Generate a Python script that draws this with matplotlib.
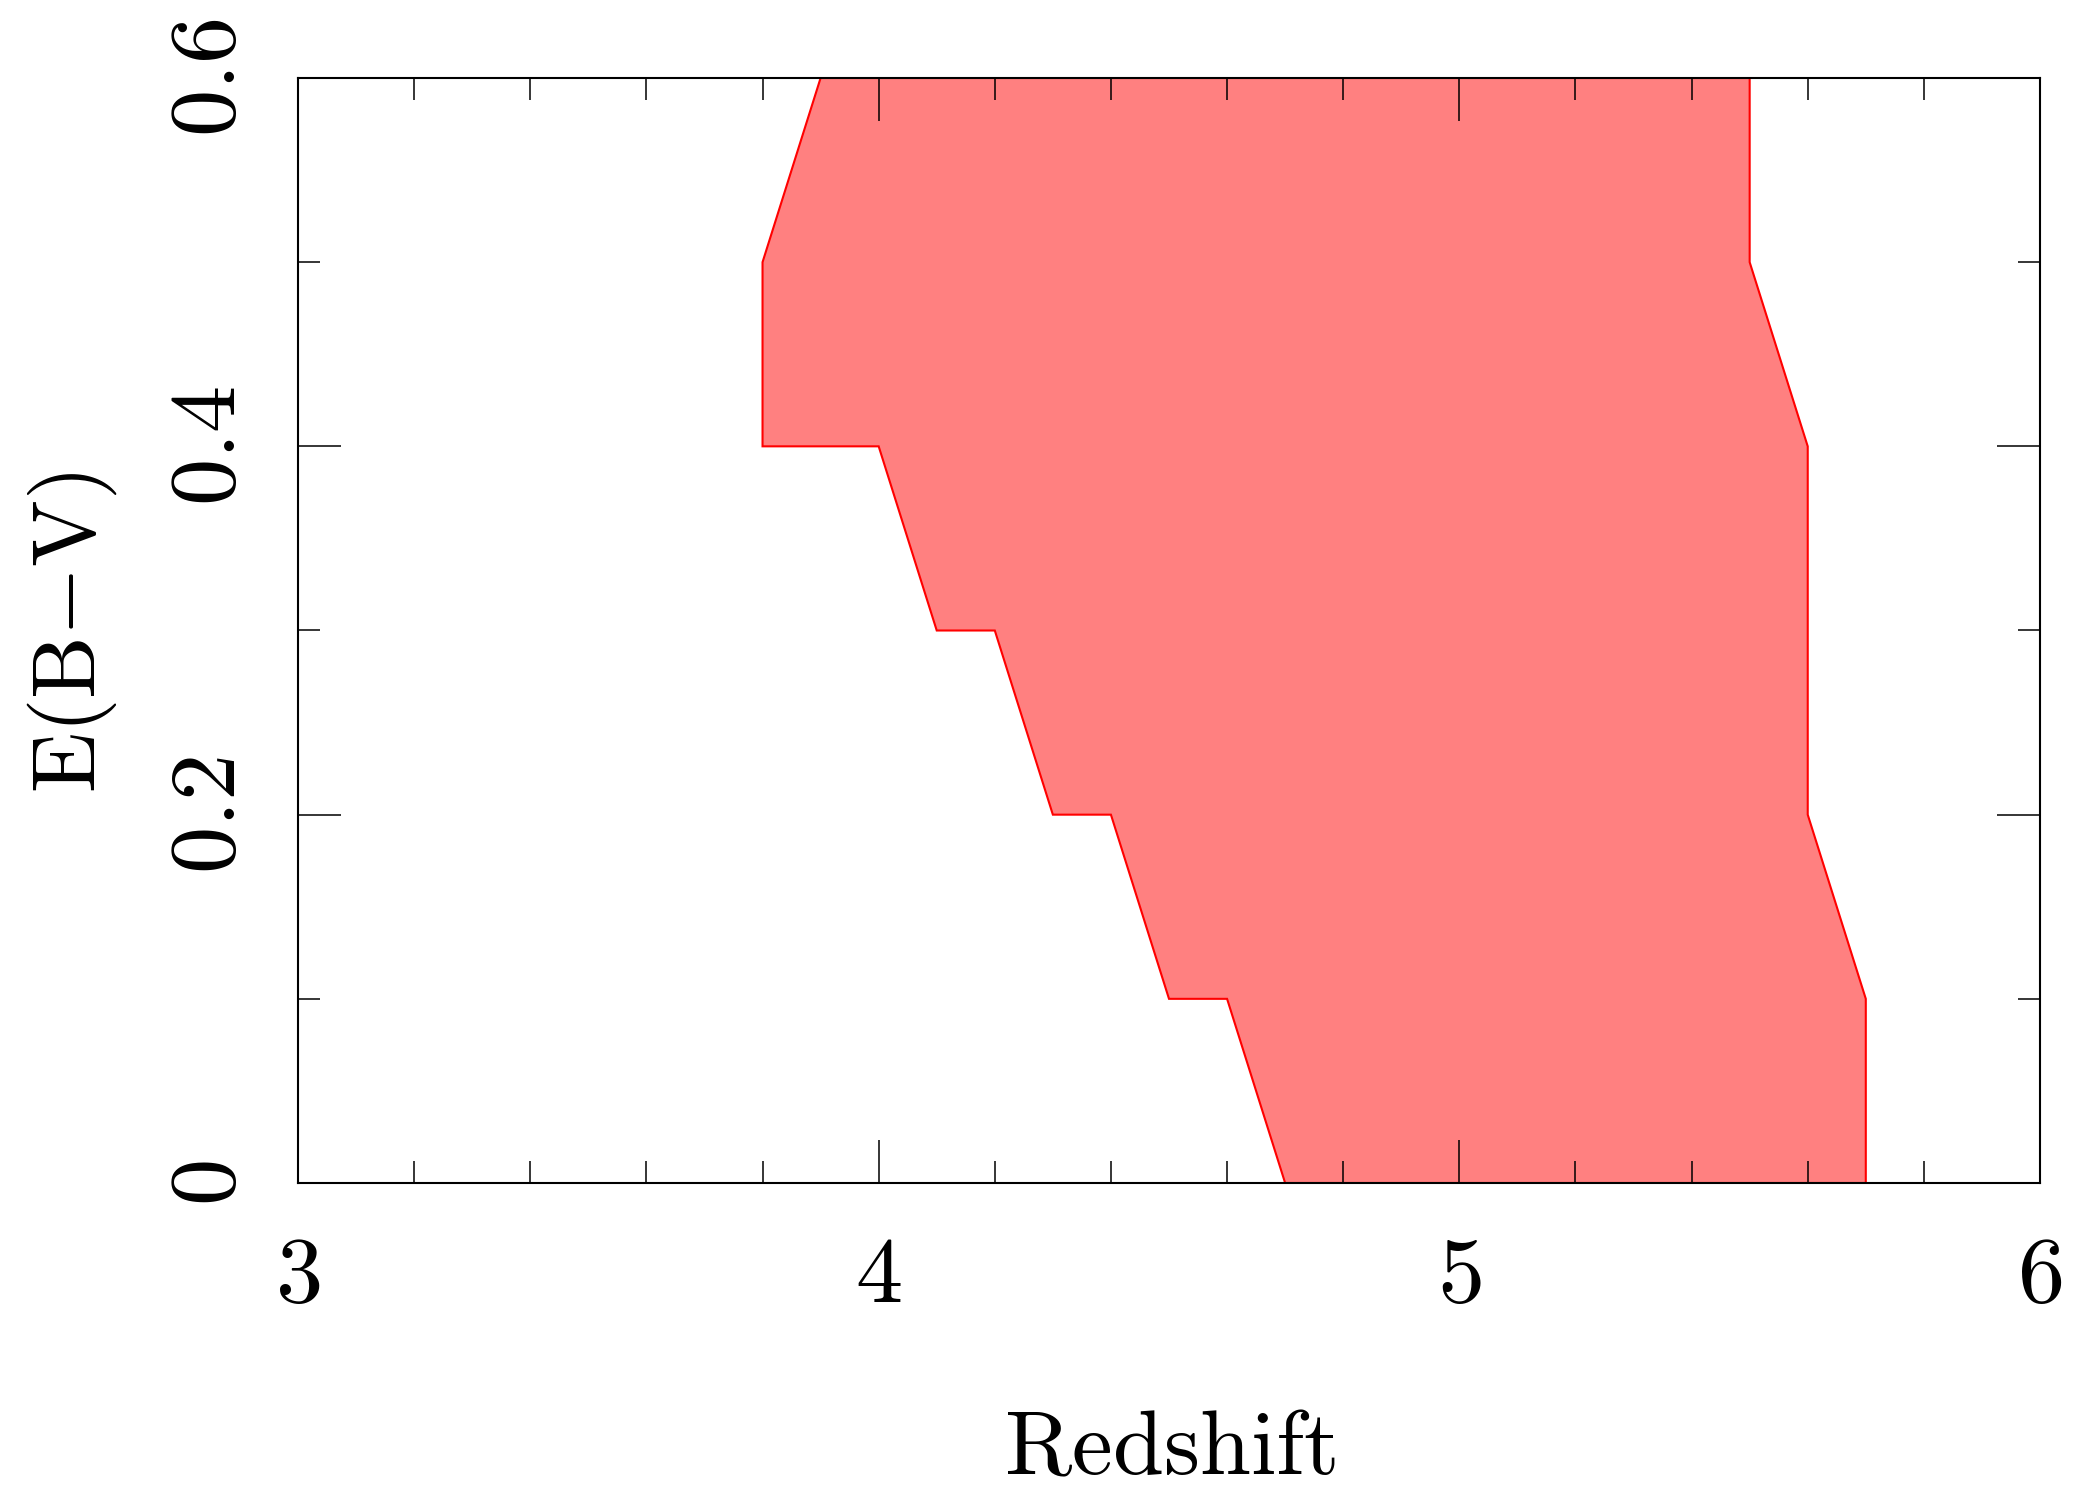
import numpy as np
import matplotlib
matplotlib.use("Agg")
from matplotlib import pyplot as plt
from matplotlib.ticker import MultipleLocator, FixedLocator, FixedFormatter

# Boundary of the allowed region: left edge (bottom to top), then right edge (top to bottom).
left_z = [4.7, 4.6, 4.5, 4.4, 4.3, 4.2, 4.1, 4.0, 3.8, 3.8, 3.9]
left_ebv = [0.0, 0.1, 0.1, 0.2, 0.2, 0.3, 0.3, 0.4, 0.4, 0.5, 0.6]
right_z = [5.5, 5.5, 5.6, 5.6, 5.7, 5.7]
right_ebv = [0.6, 0.5, 0.4, 0.2, 0.1, 0.0]

x_ticks = [3, 4, 5, 6]
x_labels = ["3", "4", "5", "6"]
y_ticks = [0.0, 0.2, 0.4, 0.6]
y_labels = ["0", "0.2", "0.4", "0.6"]

plt.rcParams['mathtext.fontset'] = 'cm'

fig = plt.figure(figsize=(20.8, 14.9), dpi=100)
ax = fig.add_axes([298 / 2080, 1 - 1183 / 1490, (2040 - 298) / 2080, (1183 - 78) / 1490])

z = np.array(left_z + right_z)
ebv = np.array(left_ebv + right_ebv)
ax.fill(z, ebv, facecolor='#ff8080', edgecolor='#ff0000', linewidth=1.5, zorder=1)

ax.set_xlim(3, 6)
ax.set_ylim(0, 0.6)

ax.xaxis.set_major_locator(FixedLocator(x_ticks))
ax.xaxis.set_major_formatter(FixedFormatter(["$" + s + "$" for s in x_labels]))
ax.xaxis.set_minor_locator(MultipleLocator(0.2))
ax.yaxis.set_major_locator(FixedLocator(y_ticks))
ax.yaxis.set_major_formatter(FixedFormatter(["$" + s + "$" for s in y_labels]))
ax.yaxis.set_minor_locator(MultipleLocator(0.1))

for s in ax.spines.values():
    s.set_linewidth(1.5)
    s.set_zorder(3)

ax.tick_params(which='both', direction='in', top=True, right=True, width=1.1, color='black')
ax.tick_params(which='major', length=31)
ax.tick_params(which='minor', length=16)
ax.tick_params(axis='x', which='major', labelsize=68, pad=34)
ax.tick_params(axis='y', which='major', labelsize=68, pad=31)
for lab in ax.get_yticklabels():
    lab.set_rotation(90)
    lab.set_va('center')

fig.text(1170 / 2080, 1 - 1448 / 1490, r"$\mathrm{Redshift}$", fontsize=66,
         ha='center', va='center')
fig.text(72 / 2080, 1 - 632 / 1490, r"$\mathrm{E(B{-}V)}$", fontsize=64,
         rotation=90, ha='center', va='center')

fig.savefig("out.png", dpi=100)
